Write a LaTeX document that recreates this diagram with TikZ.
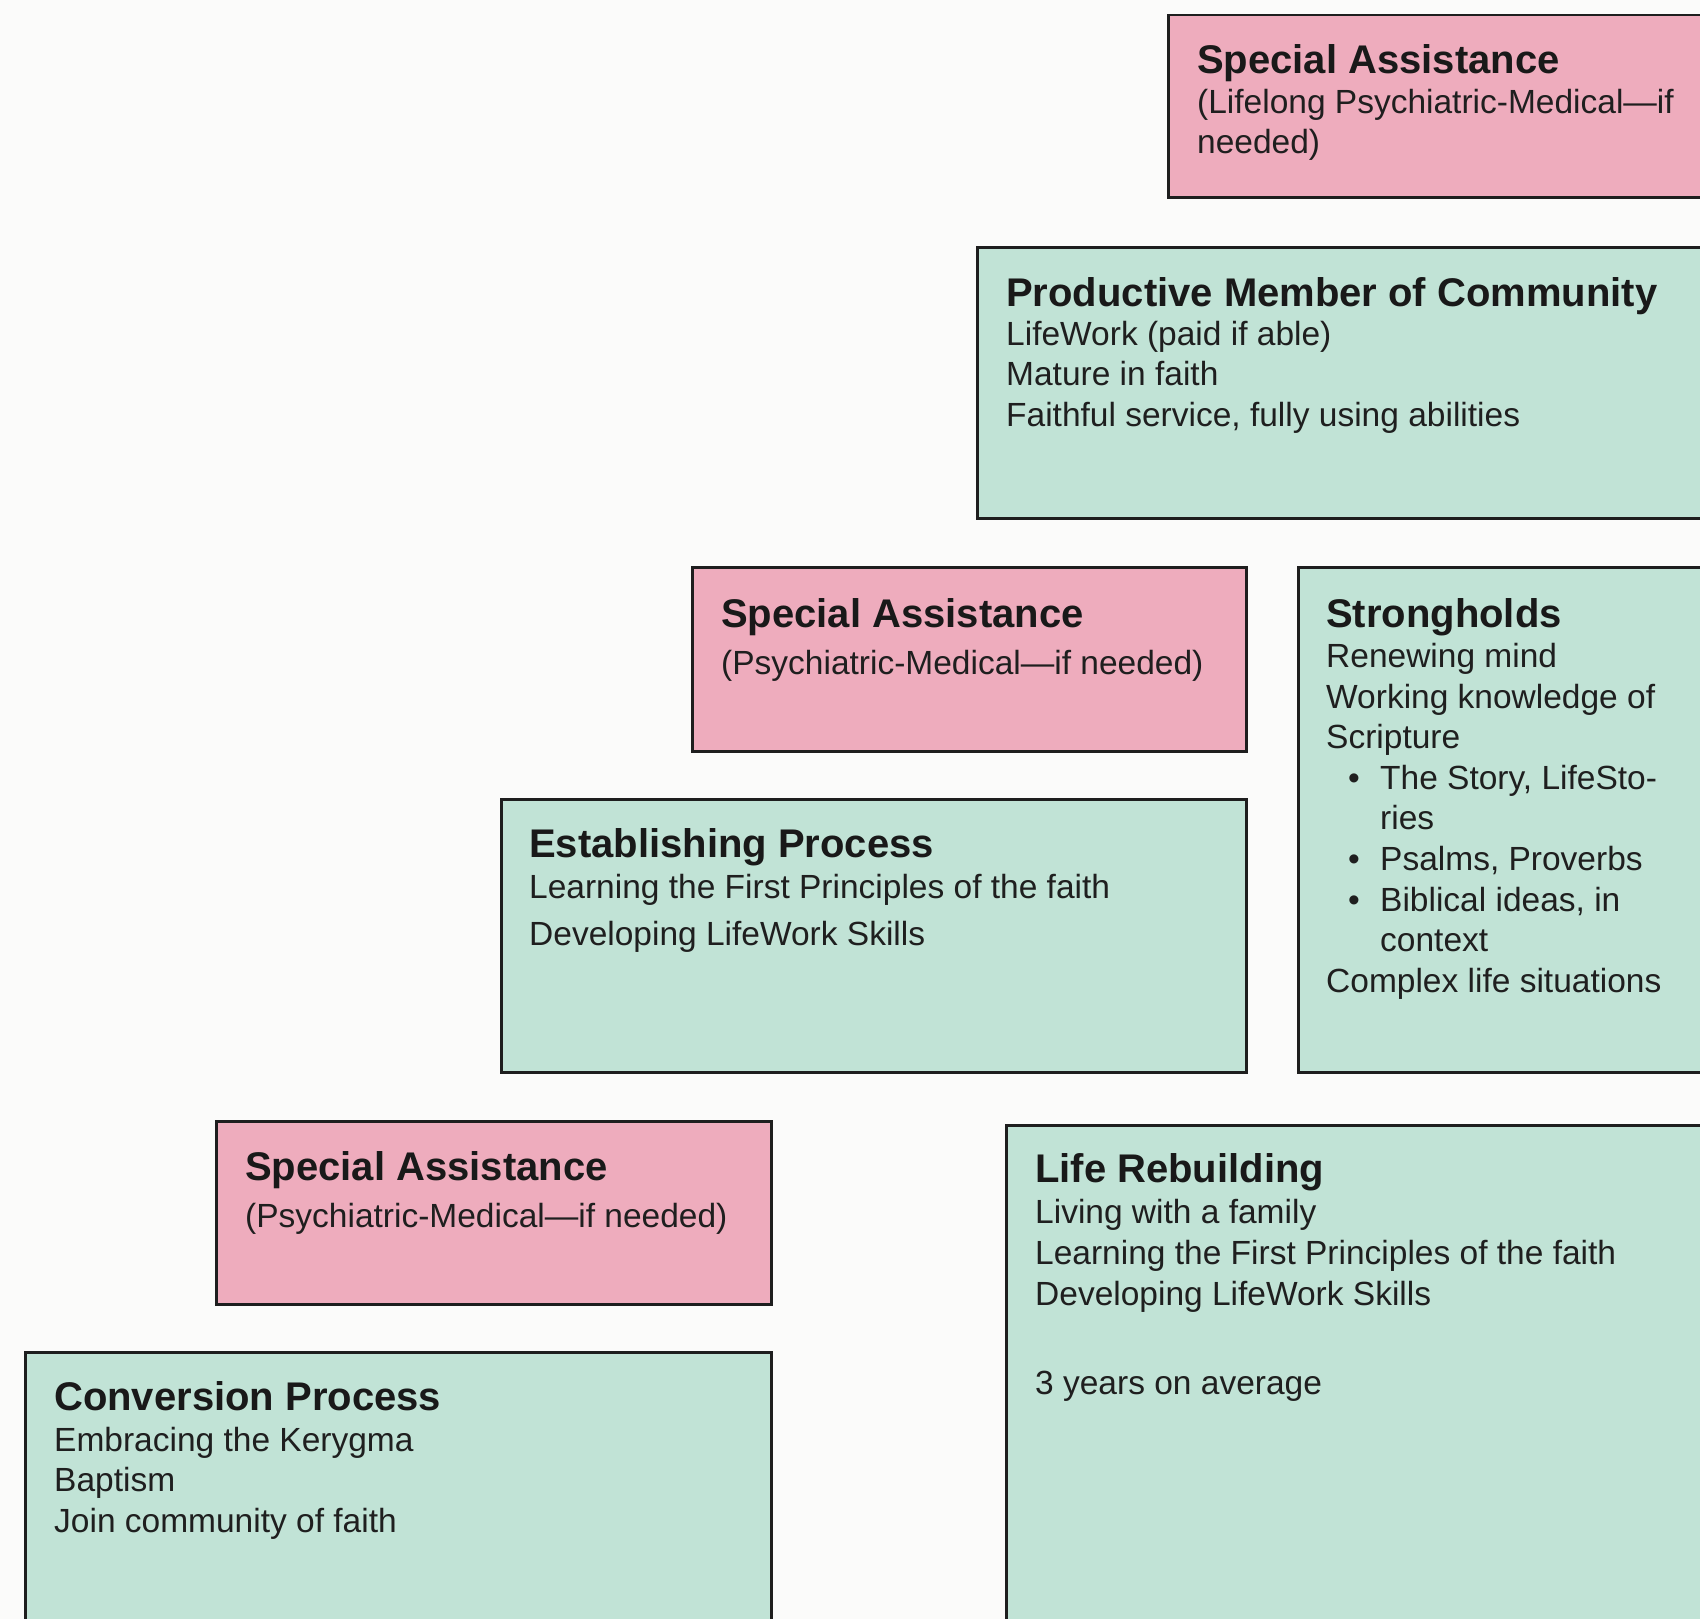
\documentclass[tikz,border=0pt]{standalone}
\usepackage{fontspec}
\setmainfont{Liberation Sans}
\definecolor{pinkfill}{RGB}{238,172,189}
\definecolor{greenfill}{RGB}{193,227,214}
\definecolor{boxline}{RGB}{30,30,30}
\definecolor{paper}{RGB}{251,251,250}
\tikzset{
  box/.style={draw=boxline, line width=2.5pt, anchor=north west, inner sep=0pt, rectangle},
  pinkbox/.style={box, fill=pinkfill},
  greenbox/.style={box, fill=greenfill},
  ttl/.style={anchor=base west, inner sep=0pt, font=\fontsize{40}{48}\selectfont\bfseries, text=black!90},
  txt/.style={anchor=base west, inner sep=0pt, font=\fontsize{33.5}{40}\selectfont, text=black!88},
}
\begin{document}
\begin{tikzpicture}[x=1pt,y=-1pt]
\fill[paper] (0,0) rectangle (1700,1619);
\useasboundingbox (0,0) rectangle (1700,1619);
\clip (0,0) rectangle (1700,1619);
% boxes
\node[pinkbox, minimum width=560pt, minimum height=182pt] (sa1) at (1167,14) {};
\node[greenbox, minimum width=750pt, minimum height=271pt] (pm) at (976,246) {};
\node[pinkbox, minimum width=554pt, minimum height=184pt] (sa2) at (691,566) {};
\node[greenbox, minimum width=430pt, minimum height=505pt] (sh) at (1297,566) {};
\node[greenbox, minimum width=745pt, minimum height=273pt] (ep) at (500,798) {};
\node[pinkbox, minimum width=555pt, minimum height=183pt] (sa3) at (215,1120) {};
\node[greenbox, minimum width=746pt, minimum height=290pt] (cp) at (24,1351) {};
\node[greenbox, minimum width=720pt, minimum height=520pt] (lr) at (1005,1124) {};
% texts: top special assistance
\node[ttl] (sa1t) at (1197,74) {Special Assistance};
\node[txt] (sa1a) at (1197,113) {(Lifelong Psychiatric-Medical—if};
\node[txt] (sa1b) at (1197,153) {needed)};
% productive member
\node[ttl] (pmt) at (1006,306) {Productive Member of Community};
\node[txt] (pma) at (1006,345) {LifeWork (paid if able)};
\node[txt] (pmb) at (1006,385) {Mature in faith};
\node[txt] (pmc) at (1006,426) {Faithful service, fully using abilities};
% middle special assistance
\node[ttl] (sa2t) at (721,627) {Special Assistance};
\node[txt] (sa2a) at (721,674) {(Psychiatric-Medical—if needed)};
% strongholds
\node[ttl] (sht) at (1326,627) {Strongholds};
\node[txt] (sha) at (1326,667) {Renewing mind};
\node[txt] (shb) at (1326,708) {Working knowledge of};
\node[txt] (shc) at (1326,748) {Scripture};
\node[txt] (shd1) at (1348,789) {•};
\node[txt] (shd) at (1380,789) {The Story, LifeSto-};
\node[txt] (she) at (1380,829) {ries};
\node[txt] (shf1) at (1348,870) {•};
\node[txt] (shf) at (1380,870) {Psalms, Proverbs};
\node[txt] (shg1) at (1348,911) {•};
\node[txt] (shg) at (1380,911) {Biblical ideas, in};
\node[txt] (shh) at (1380,951) {context};
\node[txt] (shi) at (1326,992) {Complex life situations};
% establishing
\node[ttl] (ept) at (529,857) {Establishing Process};
\node[txt] (epa) at (529,898) {Learning the First Principles of the faith};
\node[txt] (epb) at (529,945) {Developing LifeWork Skills};
% bottom special assistance
\node[ttl] (sa3t) at (245,1180) {Special Assistance};
\node[txt] (sa3a) at (245,1227) {(Psychiatric-Medical—if needed)};
% conversion
\node[ttl] (cpt) at (54,1410) {Conversion Process};
\node[txt] (cpa) at (54,1451) {Embracing the Kerygma};
\node[txt] (cpb) at (54,1491) {Baptism};
\node[txt] (cpc) at (54,1532) {Join community of faith};
% life rebuilding
\node[ttl] (lrt) at (1035,1182) {Life Rebuilding};
\node[txt] (lra) at (1035,1223) {Living with a family};
\node[txt] (lrb) at (1035,1264) {Learning the First Principles of the faith};
\node[txt] (lrc) at (1035,1305) {Developing LifeWork Skills};
\node[txt] (lrd) at (1035,1394) {3 years on average};
\end{tikzpicture}
\end{document}
